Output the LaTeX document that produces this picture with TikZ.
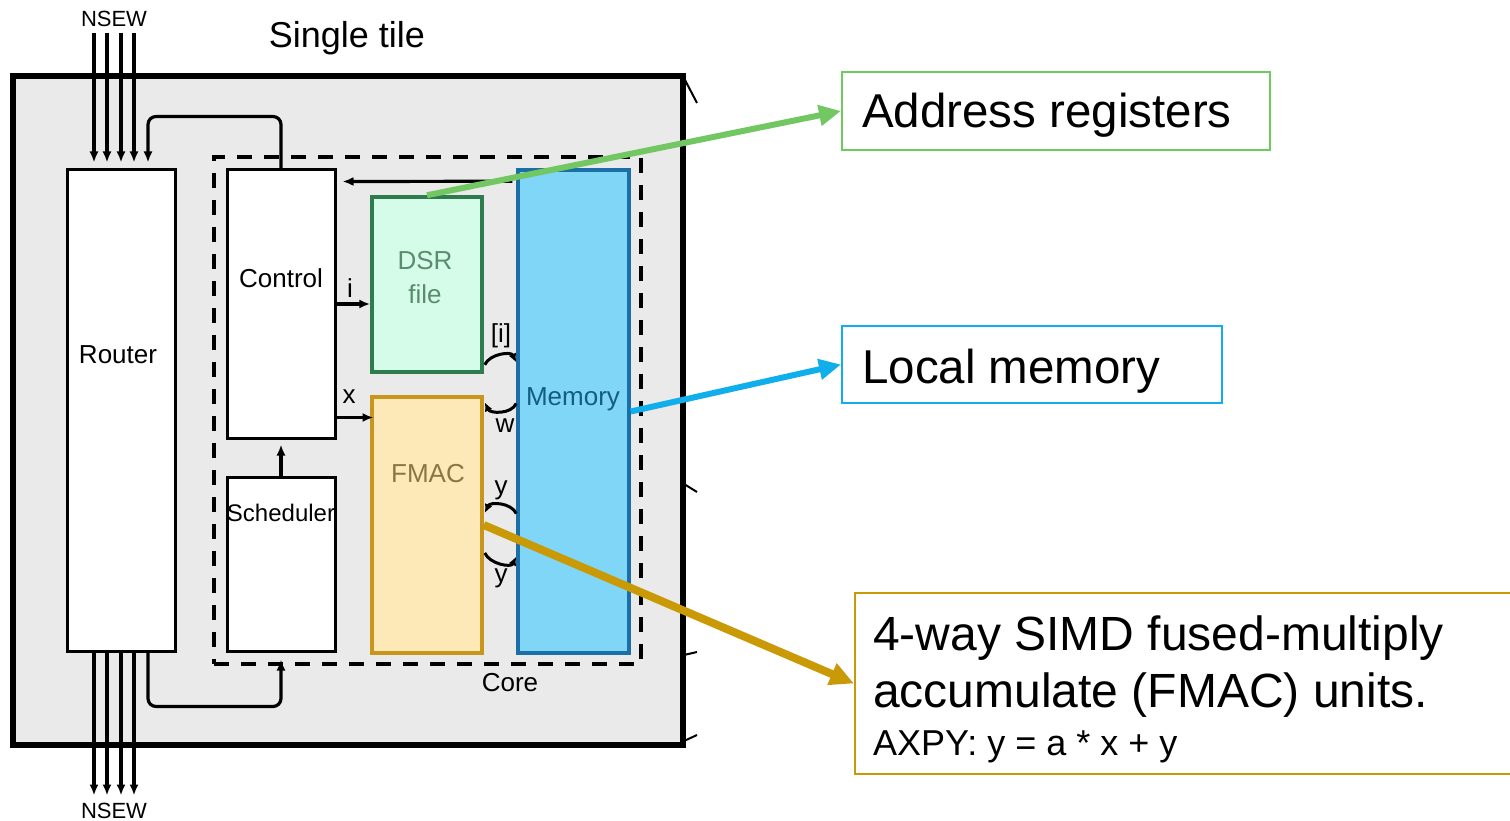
\documentclass[tikz,border=0pt]{standalone}
\usepackage{fontspec}
\setmainfont{Liberation Sans}
\usetikzlibrary{arrows.meta,calc}
\definecolor{tilegray}{HTML}{EAEAEA}
\definecolor{dsrfill}{HTML}{D5FCE9}
\definecolor{dsrdraw}{HTML}{2E7B4E}
\definecolor{dsrtext}{HTML}{5A8C6E}
\definecolor{fmacfill}{HTML}{FDE8B8}
\definecolor{fmacdraw}{HTML}{C8961C}
\definecolor{fmactext}{HTML}{8A7545}
\definecolor{memfill}{HTML}{80D6F6}
\definecolor{memdraw}{HTML}{1B6EA6}
\definecolor{memtext}{HTML}{145C80}
\definecolor{greenc}{HTML}{72C763}
\definecolor{addrc}{HTML}{6DCB5E}
\definecolor{bluec}{HTML}{10AEEA}
\definecolor{goldc}{HTML}{C99A06}
\newcommand\fsz[1]{\fontsize{#1}{#1}\selectfont}
\begin{document}
\begin{tikzpicture}[x=1pt,y=-1pt,
  blk/.style={draw=black, line width=3pt, fill=white, inner sep=0pt},
  lbl/.style={font=\fsz{26}, inner sep=0pt},
  arr/.style={line width=3.2pt, -{Latex[length=11pt,width=9pt]}},
  arcarr/.style={line width=3pt, -{Latex[length=9pt,width=8pt]}},
  callout/.style={line width=2pt, inner sep=0pt},
  bigtext/.style={font=\fsz{47.5}, anchor=base west, inner sep=0pt},
]
\useasboundingbox (0,0) rectangle (1510,821);

% tile
\node[draw=black, line width=6.5pt, fill=tilegray, minimum width=670, minimum height=669, inner sep=0pt] (tile) at (348,410.5) {};
\node[font=\fsz{36}] (title) at (347,38) {Single tile};

% core
\node[draw=black, line width=3.2pt, dash pattern=on 15pt off 12pt, minimum width=427, minimum height=507, inner sep=0pt] (core) at (427.5,410.5) {};
\node[lbl] (corelbl) at (510,683) {Core};

% boxes
\node[blk, minimum width=108, minimum height=481] (router) at (121,410.5) {};
\node[lbl] (routert) at (118,355) {Router};
\node[blk, minimum width=108, minimum height=268] (ctrl) at (281,304) {};
\node[lbl] (ctrlt) at (281,278) {Control};
\node[blk, minimum width=108, minimum height=174] (sched) at (281,564) {};
\node[lbl, font=\fsz{24}] (schedt) at (281,513) {Scheduler};
\node[draw=dsrdraw, fill=dsrfill, line width=3.5pt, minimum width=110, minimum height=175, inner sep=0pt] (dsr) at (427,284.5) {};
\node[align=center, text=dsrtext, font=\fontsize{26}{34}\selectfont, inner sep=0pt] (dsrt) at (425,278) {DSR\\file};
\node[draw=fmacdraw, fill=fmacfill, line width=3.5pt, minimum width=110, minimum height=256, inner sep=0pt] (fmac) at (427,525) {};
\node[lbl, text=fmactext] (fmact) at (428,474) {FMAC};
\node[draw=memdraw, fill=memfill, line width=3.5pt, minimum width=111, minimum height=483, inner sep=0pt] (mem) at (573.5,411.5) {};
\node[lbl, text=memtext] (memt) at (573,399) {Memory};

% NSEW
\node[font=\fsz{22}, inner sep=0pt] (nsewt) at (114,19) {NSEW};
\node[font=\fsz{22}, inner sep=0pt] (nsewb) at (114,811) {NSEW};
\foreach \dx in {-27,-14,0,13} {
  \draw[arr] ($(router.north)+(\dx,-135)$) -- ($(router.north)+(\dx,-6)$);
  \draw[arr] ($(router.south)+(\dx,0)$) -- ++(0,143);
}
\draw[arr, rounded corners=8pt] (ctrl.north) -- ++(0,-52) -| ($(router.north)+(27,-6)$);
\draw[arr, rounded corners=8pt] ($(router.south)+(27,0)$) -- ++(0,54) -| ($(sched.south)+(0,7)$);
\draw[arr] (sched.north) -- ($(ctrl.south)+(0,5)$);

% memory -> control
\draw[arr] ($(mem.north west)+(-4,13)$) -- ($(ctrl.north east)+(6,13)$);

% i, x
\draw[arr] (ctrl.east) -- (ctrl.east -| dsr.west);
\node[lbl] (il) at (350,288) {i};
\draw[arr] ($(ctrl.south east)+(0,-22)$) -- ($(ctrl.south east)+(37,-22)$);
\node[lbl] (xl) at (349,397) {x};

% arcs
\draw[arcarr] ($(dsr.south east)+(1,-9)$) to[out=65,in=115] ($(mem.west)+(0,-49)$);
\node[lbl] (il2) at (501,336) {[i]};
\draw[arcarr] ($(mem.west)+(0,-8)$) to[out=-115,in=-65] ($(fmac.north east)+(1,7)$);
\node[lbl] (wl) at (505,426) {w};
\draw[arcarr] ($(mem.west)+(0,102)$) to[out=115,in=65] ($(fmac.east)+(1,-12)$);
\node[lbl] (yl1) at (501,490) {y};
\draw[arcarr] ($(fmac.east)+(1,28)$) to[out=-65,in=-115] ($(mem.west)+(0,145)$);
\node[lbl] (yl2) at (501,578) {y};

% edge fragments at right of tile
\draw[line width=2pt] (685,80) -- (697,103);
\draw[line width=2pt] (684,484) -- (697,492);
\draw[line width=2pt] (684,655) -- (697,652);
\draw[line width=2pt] (684,741) -- (697,735);

% callouts
\node[callout, draw=addrc, minimum width=428, minimum height=78] (addr) at (1056,111) {};
\node[bigtext] (addrt) at (862,128) {Address registers};
\node[callout, draw=bluec, minimum width=380, minimum height=77] (loc) at (1032,364.5) {};
\node[bigtext] (loct) at (862,383) {Local memory};
\node[callout, draw=goldc, minimum width=680, minimum height=181, anchor=north west] (simd) at (854,592) {};
\node[bigtext, font=\fsz{48}] (simd1) at (873,650) {4-way SIMD fused-multiply};
\node[bigtext, font=\fsz{48}] (simd2) at (873,707) {accumulate (FMAC) units.};
\node[bigtext, font=\fsz{36}] (simd3) at (873,755) {AXPY: y = a * x + y};

\draw[line width=6pt, greenc, -{Triangle[length=22pt,width=20pt]}] (dsr.north) -- (addr.west);
\draw[line width=6pt, bluec, -{Triangle[length=22pt,width=20pt]}] (mem.east) -- (loc.west);
\draw[line width=8pt, goldc, -{Triangle[length=24pt,width=22pt]}] (fmac.east) -- (simd.west);
\end{tikzpicture}
\end{document}
